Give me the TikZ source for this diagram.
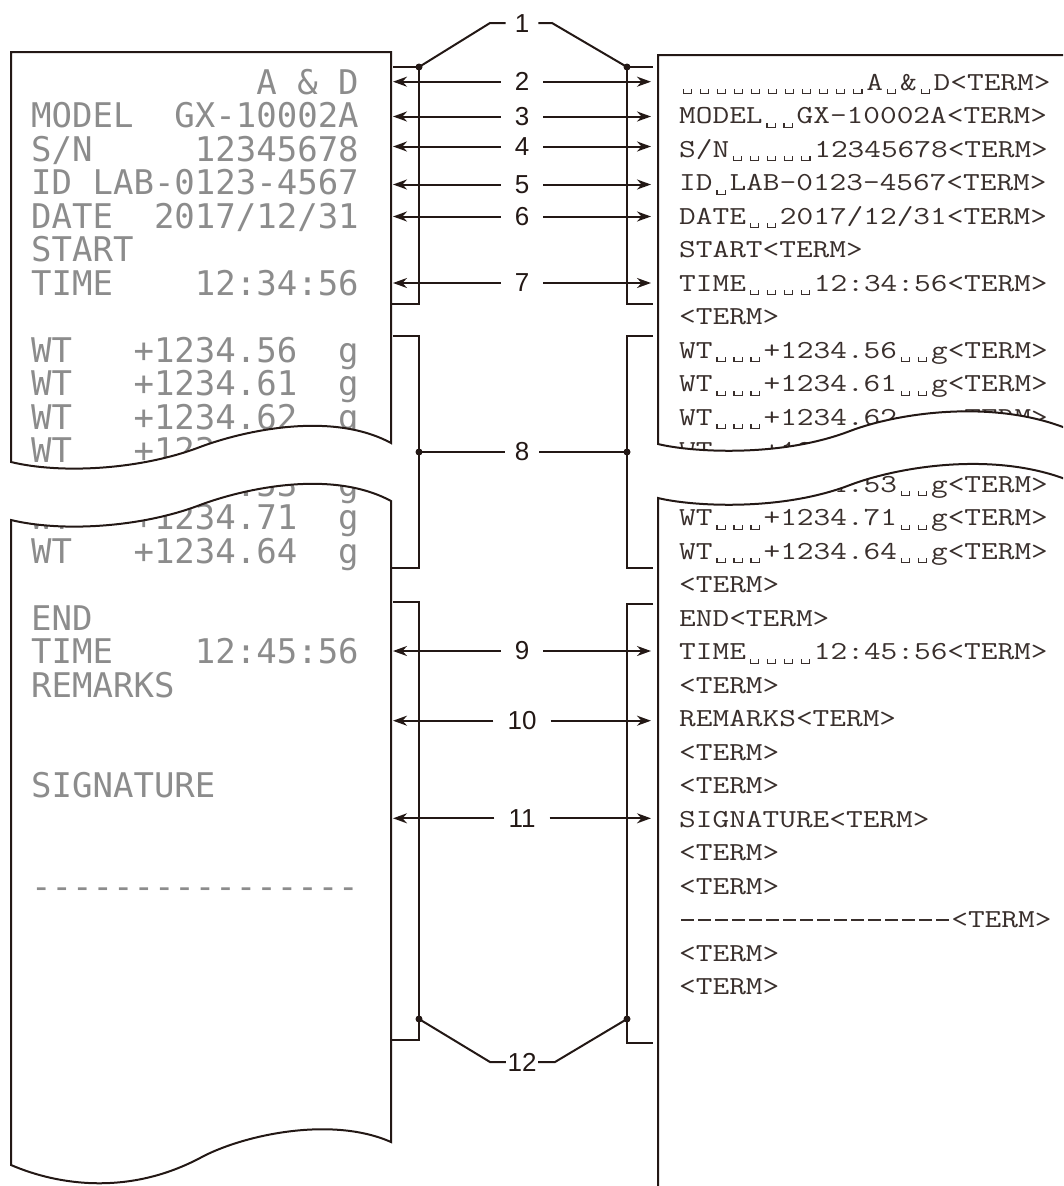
\documentclass[tikz,border=0pt]{standalone}
\usepackage{fontspec}
\usepackage{graphicx}
\usetikzlibrary{arrows.meta}
\newfontfamily\labfont{Liberation Sans}
\newfontfamily\dotfont{DejaVu Sans Mono}
\definecolor{ink}{RGB}{35,24,21}
\newcommand\sk[1]{\hbox to #1\fontcharwd\font`0 {}}
\newcommand\vs{\hbox to 0.525em{\hss\raisebox{-0.16em}{\vrule width 0.035em height 0.19em depth 0pt\vrule width 0.22em height 0.035em depth 0pt\vrule width 0.035em height 0.19em depth 0pt}\hss}}
\newcommand\rdash{\hbox to 0.525em{\hss\rule[0.24em]{0.4em}{0.075em}\hss}}
\newcommand\ldash{\mbox{-}}
\newcommand\rt[1]{\scalebox{1}[0.8]{#1}}
\newcommand\TM{<TERM>}
\def\LUpath{(391,443) -- (391,52) -- (11,52) -- (11,462) .. controls (60,474) and (140,470) .. (200,447) .. controls (240,432) and (330,410) .. (391,443) -- cycle}
\def\LLpath{(11,520) .. controls (60,532) and (140,528) .. (200,505) .. controls (240,490) and (330,468) .. (391,501) -- (391,1142) .. controls (330,1115) and (240,1136) .. (200,1158) .. controls (130,1195) and (60,1186) .. (11,1165) -- cycle}
\def\RUpath{(658,444) .. controls (690,452) and (780,458) .. (850,431) .. controls (900,412) and (1000,398) .. (1075,432) -- (1075,55) -- (658,55) -- cycle}
\def\RLpath{(658,498) .. controls (690,506) and (780,512) .. (850,485) .. controls (900,466) and (1000,450) .. (1075,483) -- (1075,1200) -- (658,1200) -- cycle}
\begin{document}
\begin{tikzpicture}[x=1pt,y=-1pt,
  ln/.style={draw=ink,line width=2pt},
  paper/.style={draw=ink,line width=2pt},
  arr/.style={ln,-{Stealth[length=14pt,width=10pt,inset=4.5pt]}},
  lab/.style={font=\labfont\fontsize{26}{26}\selectfont,text=ink,inner ysep=0pt,inner xsep=14pt},
  lrow/.style={anchor=base west,inner sep=0pt,font=\dotfont\fontsize{34}{34}\selectfont,text=black!45},
  rrow/.style={anchor=base west,inner sep=0pt,font=\ttfamily\fontsize{32.4}{32.4}\selectfont,text=ink!90}]
\useasboundingbox (0,0) rectangle (1063,1186);
\clip (0,0) rectangle (1063,1186);
% ---------- left printout, upper part
\begin{scope}
\clip \LUpath;
\node[lrow] (l0) at (31,94) {\sk{11}A\sk{1}\&\sk{1}D};
\node[lrow] (l1) at (31,127.5) {MODEL\sk{2}GX-10002A};
\node[lrow] (l2) at (31,161) {S/N\sk{5}12345678};
\node[lrow] (l3) at (31,194.5) {ID\sk{1}LAB-0123-4567};
\node[lrow] (l4) at (31,228) {DATE\sk{2}2017/12/31};
\node[lrow] (l5) at (31,261.5) {START};
\node[lrow] (l6) at (31,295) {TIME\sk{4}12:34:56};
\node[lrow] (l8) at (31,362) {WT\sk{3}+1234.56\sk{2}g};
\node[lrow] (l9) at (31,395.5) {WT\sk{3}+1234.61\sk{2}g};
\node[lrow] (l10) at (31,429) {WT\sk{3}+1234.62\sk{2}g};
\node[lrow] (l11) at (31,462.5) {WT\sk{3}+1234.58\sk{2}g};
\end{scope}
% ---------- left printout, lower part
\begin{scope}
\clip \LLpath;
\node[lrow] (l12) at (31,496) {WT\sk{3}+1234.53\sk{2}g};
\node[lrow] (l13) at (31,529.5) {WT\sk{3}+1234.71\sk{2}g};
\node[lrow] (l14) at (31,563) {WT\sk{3}+1234.64\sk{2}g};
\node[lrow] (l16) at (31,630) {END};
\node[lrow] (l17) at (31,663.5) {TIME\sk{4}12:45:56};
\node[lrow] (l18) at (31,697) {REMARKS};
\node[lrow] (l21) at (31,797.5) {SIGNATURE};
\node[lrow] (l24) at (31,898) {\ldash\ldash\ldash\ldash\ldash\ldash\ldash\ldash\ldash\ldash\ldash\ldash\ldash\ldash\ldash\ldash};
\end{scope}
% ---------- right data output, upper part
\begin{scope}
\clip \RUpath;
\node[rrow] (r0) at (679,90) {\rt{\vs\vs\vs\vs\vs\vs\vs\vs\vs\vs\vs A\vs\&\vs D\TM}};
\node[rrow] (r1) at (679,123.5) {\rt{MODEL\vs\vs GX-10002A\TM}};
\node[rrow] (r2) at (679,157) {\rt{S/N\vs\vs\vs\vs\vs 12345678\TM}};
\node[rrow] (r3) at (679,190.5) {\rt{ID\vs LAB-0123-4567\TM}};
\node[rrow] (r4) at (679,224) {\rt{DATE\vs\vs 2017/12/31\TM}};
\node[rrow] (r5) at (679,257.5) {\rt{START\TM}};
\node[rrow] (r6) at (679,291) {\rt{TIME\vs\vs\vs\vs 12:34:56\TM}};
\node[rrow] (r7) at (679,324.5) {\rt{\TM}};
\node[rrow] (r8) at (679,358) {\rt{WT\vs\vs\vs+1234.56\vs\vs g\TM}};
\node[rrow] (r9) at (679,391.5) {\rt{WT\vs\vs\vs+1234.61\vs\vs g\TM}};
\node[rrow] (r10) at (679,425) {\rt{WT\vs\vs\vs+1234.62\vs\vs g\TM}};
\node[rrow] (r11) at (679,458.5) {\rt{WT\vs\vs\vs+1234.58\vs\vs g\TM}};
\end{scope}
% ---------- right data output, lower part
\begin{scope}
\clip \RLpath;
\node[rrow] (r12) at (679,492) {\rt{WT\vs\vs\vs+1234.53\vs\vs g\TM}};
\node[rrow] (r13) at (679,525.5) {\rt{WT\vs\vs\vs+1234.71\vs\vs g\TM}};
\node[rrow] (r14) at (679,559) {\rt{WT\vs\vs\vs+1234.64\vs\vs g\TM}};
\node[rrow] (r15) at (679,592.5) {\rt{\TM}};
\node[rrow] (r16) at (679,626) {\rt{END\TM}};
\node[rrow] (r17) at (679,659.5) {\rt{TIME\vs\vs\vs\vs 12:45:56\TM}};
\node[rrow] (r18) at (679,693) {\rt{\TM}};
\node[rrow] (r19) at (679,726.5) {\rt{REMARKS\TM}};
\node[rrow] (r20) at (679,760) {\rt{\TM}};
\node[rrow] (r21) at (679,793.5) {\rt{\TM}};
\node[rrow] (r22) at (679,827) {\rt{SIGNATURE\TM}};
\node[rrow] (r23) at (679,860.5) {\rt{\TM}};
\node[rrow] (r24) at (679,894) {\rt{\TM}};
\node[rrow] (r25) at (679,927.5) {\rt{\rdash\rdash\rdash\rdash\rdash\rdash\rdash\rdash\rdash\rdash\rdash\rdash\rdash\rdash\rdash\rdash\TM}};
\node[rrow] (r26) at (679,961) {\rt{\TM}};
\node[rrow] (r27) at (679,994.5) {\rt{\TM}};
\end{scope}
% ---------- paper outlines
\draw[paper] \LUpath;
\draw[paper] \LLpath;
\draw[paper] \RUpath;
\draw[paper] \RLpath;
% ---------- brackets
\coordinate (d1l) at (419,67);  \coordinate (d1r) at (627,67);
\coordinate (d8l) at (419,452); \coordinate (d8r) at (627,452);
\coordinate (d12l) at (419,1019); \coordinate (d12r) at (627,1019);
\draw[ln] (393,67) -- (d1l) -- (419,304) -- (391,304);
\draw[ln] (653,67) -- (d1r) -- (627,304) -- (653,304);
\draw[ln] (393,336) -- (419,336) -- (419,568) -- (391,568);
\draw[ln] (653,336) -- (627,336) -- (627,568) -- (653,568);
\draw[ln] (393,602) -- (419,602) -- (419,1040) -- (391,1040);
\draw[ln] (653,604) -- (627,604) -- (627,1043) -- (653,1043);
% ---------- callout 1
\coordinate (k1l) at (490,23); \coordinate (k1r) at (552,23);
\node[lab,inner xsep=9pt] (L1) at (522,23.5) {1};
\draw[ln] (d1l) -- (k1l) -- (L1);
\draw[ln] (L1) -- (k1r) -- (d1r);
% ---------- callout 8
\node[lab,inner xsep=10pt] (L8) at (522,452) {8};
\draw[ln] (d8l) -- (L8) -- (d8r);
% ---------- callout 12
\coordinate (k12l) at (490,1062); \coordinate (k12r) at (555,1062);
\node[lab,inner xsep=1.5pt] (L12) at (522,1062) {12};
\draw[ln] (d12l) -- (k12l) -- (L12);
\draw[ln] (L12) -- (k12r) -- (d12r);
% ---------- double arrows
\foreach \k/\y in {2/81.7,3/116.5,4/146.5,5/184.5,6/216.5,7/283,9/651,10/720.7,11/818.3}{
  \node[lab] (L\k) at (522,\y) {\k};
  \coordinate (al\k) at (393,\y);
  \coordinate (ar\k) at (651,\y);
  \draw[arr] (L\k) -- (al\k);
  \draw[arr] (L\k) -- (ar\k);
}
% ---------- junction dots
\foreach \d in {d1l,d1r,d8l,d8r,d12l,d12r}{\fill[ink] (\d) circle (3.5pt);}
\end{tikzpicture}
\end{document}
